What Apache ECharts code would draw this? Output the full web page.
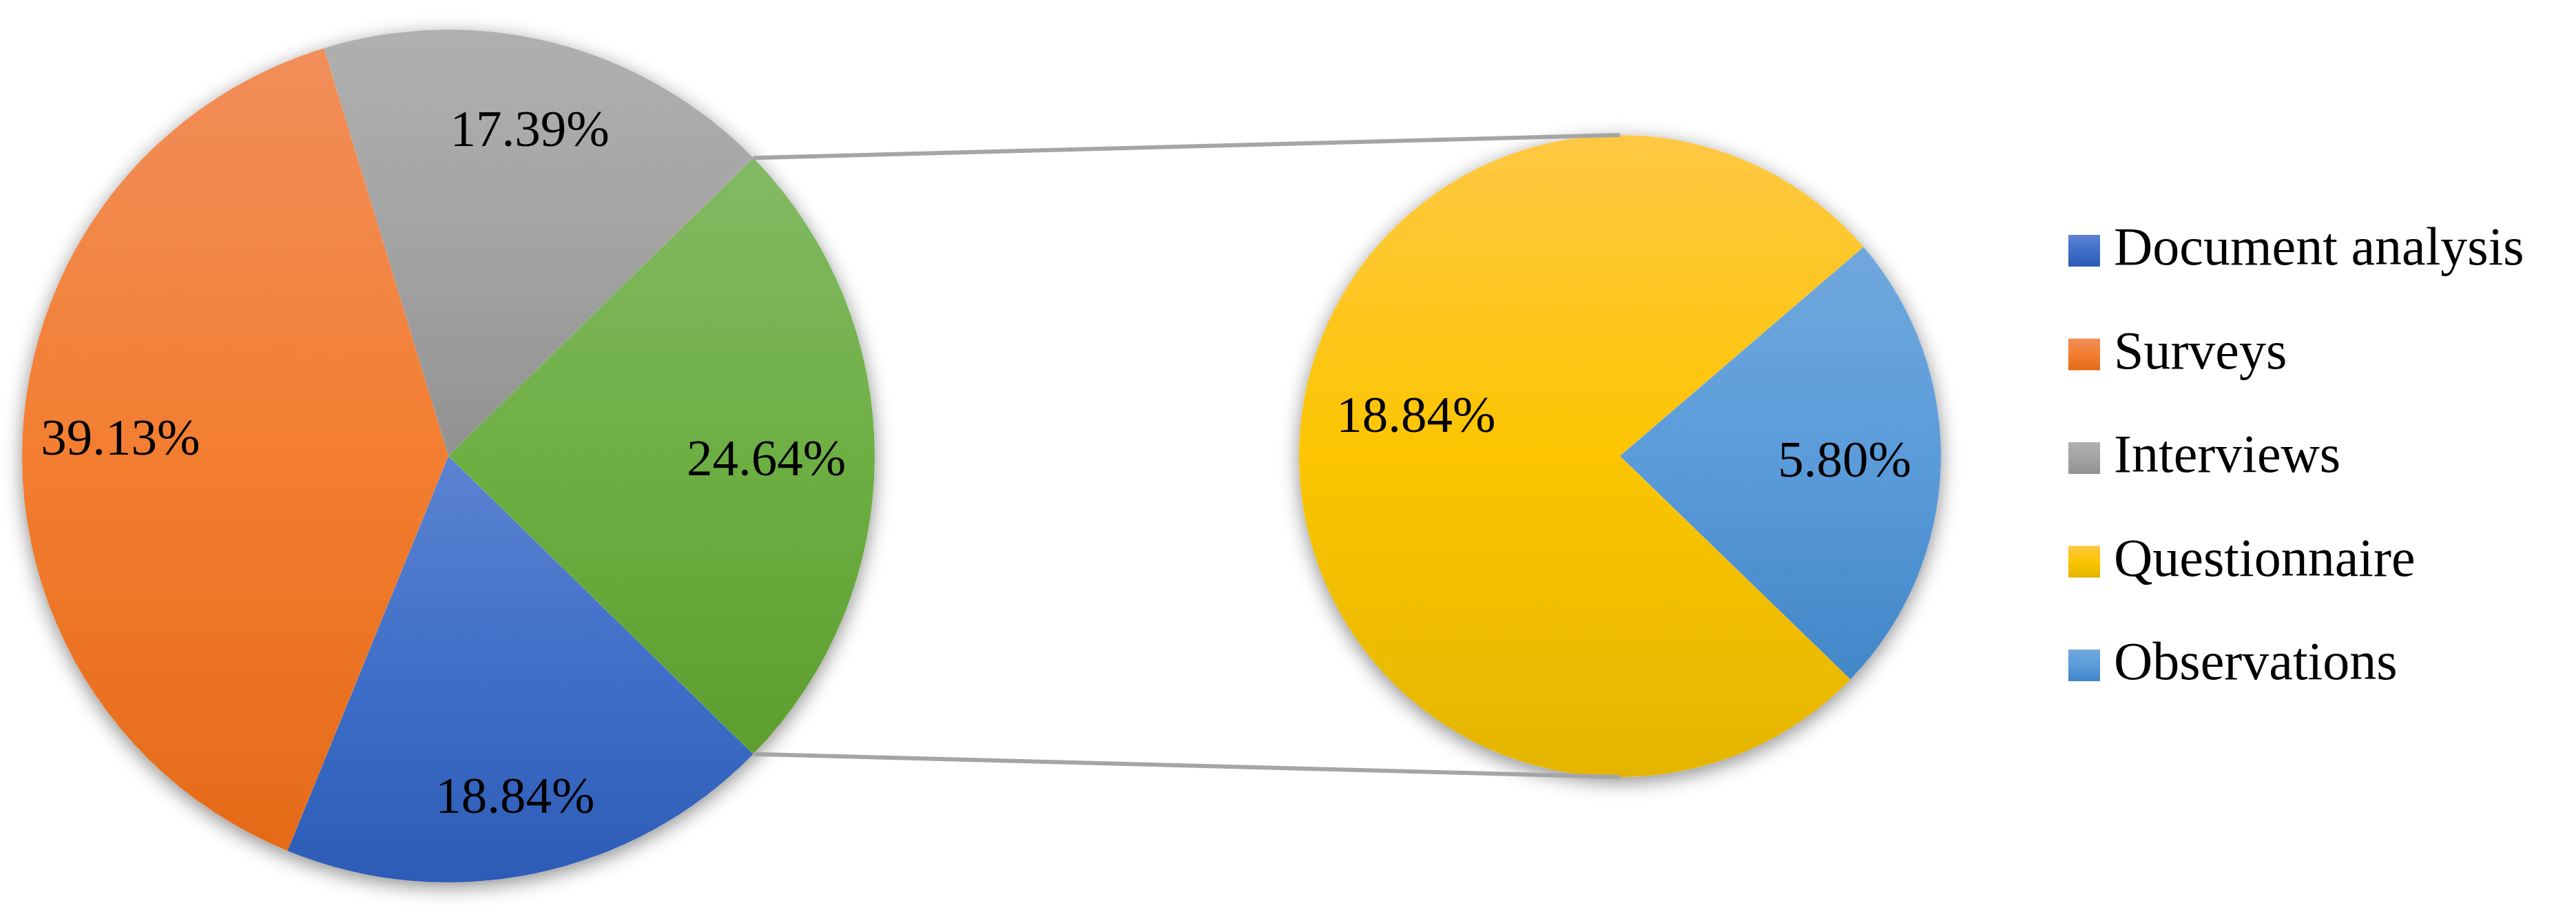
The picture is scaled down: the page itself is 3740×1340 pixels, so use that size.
<!DOCTYPE html>
<html>
<head>
<meta charset="utf-8">
<script src="https://cdn.jsdelivr.net/npm/echarts@6/dist/echarts.min.js"></script>
<style>
  html, body { margin: 0; padding: 0; background: #fff; }
  #chart-container { width: 3740px; height: 1340px; }
</style>
</head>
<body>
<div id="chart-container"></div>
<script>
// data (percent of all studies)
const mainNames = ['Document analysis', 'Surveys', 'Interviews'];
const mainValues = [18.84, 39.13, 17.39];
const detailNames = ['Questionnaire', 'Observations'];
const detailValues = [18.84, 5.80];
const legendNames = ['Document analysis', 'Surveys', 'Interviews', 'Questionnaire', 'Observations'];
const otherName = 'Other';

// office-like vertical gradients, top -> middle -> bottom
const gradients = {
  'Document analysis': ['#5c83d1', '#3f6fc8', '#2c5cb5'],
  'Surveys': ['#f18e5a', '#f37e31', '#e46a17'],
  'Interviews': ['#b0b0b0', '#a3a3a3', '#929292'],
  'Other': ['#83b964', '#6eaf44', '#5e9e2f'],
  'Questionnaire': ['#ffc844', '#fcc500', '#e4b500'],
  'Observations': ['#70a8dd', '#5a9bda', '#4287c8']
};

// small label nudges (px) so they sit where Excel's "best fit" put them
const labelNudge = {
  'Document analysis': [0, 32],
  'Interviews': [0, -8],
  'Other': [-15, 8],
  'Questionnaire': [30, -45]
};

const FONT = 'Liberation Serif';
const left = { cx: 651, cy: 662, r: 619 };
const right = { cx: 2352, cy: 662, r: 466 };

const sum = arr => arr.reduce((a, b) => a + b, 0);
const otherValue = sum(detailValues);
const leftValues = mainValues.concat([otherValue]);
const leftNames = mainNames.concat([otherName]);

// "other" slice centred on 3 o'clock; second pie's small slice ends a bit below it
const otherDeg = otherValue / sum(leftValues) * 360;
const leftStart = 360 - otherDeg / 2;
const rightStart = 360 - 44.1;

function grad(name) {
  const c = gradients[name];
  return new echarts.graphic.LinearGradient(0, 0, 0, 1, [
    { offset: 0, color: c[0] },
    { offset: 0.5, color: c[1] },
    { offset: 1, color: c[2] }
  ]);
}

function labelPlacer(pie, names, values, startAngle, factor) {
  const total = sum(values);
  return function (params) {
    let a = startAngle;
    for (let i = 0; i < params.dataIndex; i++) a -= values[i] / total * 360;
    const mid = (a - values[params.dataIndex] / total * 180) * Math.PI / 180;
    const nudge = labelNudge[names[params.dataIndex]] || [0, 0];
    return {
      x: pie.cx + factor * pie.r * Math.cos(mid) + nudge[0],
      y: pie.cy - factor * pie.r * Math.sin(mid) + nudge[1],
      align: 'center',
      verticalAlign: 'middle'
    };
  };
}

function backdrop(pie, total) {
  return {
    type: 'pie',
    silent: true,
    z: 1,
    center: [pie.cx, pie.cy],
    radius: pie.r,
    label: { show: false },
    labelLine: { show: false },
    itemStyle: {
      color: '#fff',
      borderWidth: 0,
      shadowBlur: 28,
      shadowOffsetY: 7,
      shadowColor: 'rgba(0,0,0,0.45)'
    },
    data: [{ value: total, name: '' }]
  };
}

function slices(names, values) {
  return names.map((n, i) => ({
    name: n,
    value: values[i],
    itemStyle: { color: grad(n) }
  }));
}

const labelStyle = {
  show: true,
  position: 'inside',
  color: '#000',
  fontFamily: FONT,
  fontSize: 75,
  formatter: p => p.value.toFixed(2) + '%'
};

var dom = document.getElementById('chart-container');
var myChart = echarts.init(dom, null, { renderer: 'canvas' });

const rad = otherDeg / 2 * Math.PI / 180;
const topStart = [left.cx + left.r * Math.cos(rad), left.cy - left.r * Math.sin(rad)];
const botStart = [left.cx + left.r * Math.cos(rad), left.cy + left.r * Math.sin(rad)];

var option = {
  backgroundColor: '#fff',
  animation: false,
  legend: {
    data: legendNames,
    orient: 'vertical',
    left: 2998,
    top: 320,
    icon: 'rect',
    itemWidth: 46,
    itemHeight: 46,
    itemGap: 72.5,
    selectedMode: false,
    textStyle: {
      fontFamily: FONT,
      fontSize: 78,
      lineHeight: 78,
      color: '#000',
      padding: [0, 0, 0, 15]
    }
  },
  graphic: [
    {
      type: 'line', z: 100,
      shape: { x1: topStart[0], y1: topStart[1], x2: right.cx, y2: right.cy - right.r },
      style: { stroke: '#a5a5a5', lineWidth: 6 }
    },
    {
      type: 'line', z: 100,
      shape: { x1: botStart[0], y1: botStart[1], x2: right.cx, y2: right.cy + right.r },
      style: { stroke: '#a5a5a5', lineWidth: 6 }
    }
  ],
  series: [
    backdrop(left, sum(leftValues)),
    backdrop(right, otherValue),
    {
      name: 'Methods',
      type: 'pie',
      z: 2,
      center: [left.cx, left.cy],
      radius: left.r,
      startAngle: leftStart,
      clockwise: true,
      avoidLabelOverlap: false,
      emphasis: { disabled: true },
      itemStyle: { borderWidth: 0 },
      label: labelStyle,
      labelLine: { show: false },
      labelLayout: labelPlacer(left, leftNames, leftValues, leftStart, 0.77),
      data: slices(leftNames, leftValues)
    },
    {
      name: 'Other methods',
      type: 'pie',
      z: 2,
      center: [right.cx, right.cy],
      radius: right.r,
      startAngle: rightStart,
      clockwise: true,
      avoidLabelOverlap: false,
      emphasis: { disabled: true },
      itemStyle: { borderWidth: 0 },
      label: labelStyle,
      labelLine: { show: false },
      labelLayout: labelPlacer(right, detailNames, detailValues, rightStart, 0.70),
      data: slices(detailNames, detailValues)
    }
  ]
};

myChart.setOption(option);
window.addEventListener('resize', myChart.resize);
</script>
</body>
</html>
